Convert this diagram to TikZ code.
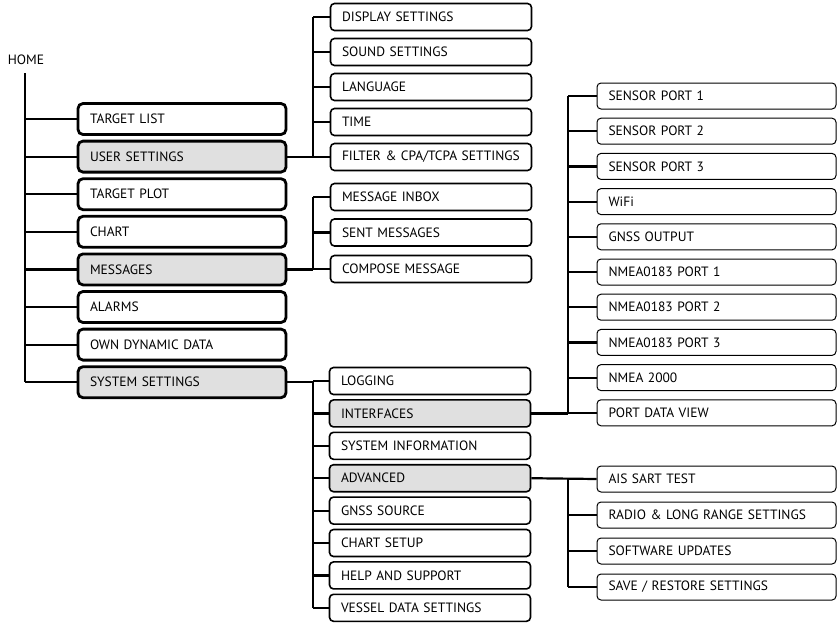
\documentclass[tikz,border=0pt]{standalone}
\usepackage{fontspec}
\setmainfont{PT Sans}
\begin{document}
\begin{tikzpicture}[x=1pt,y=-1pt,
    font=\fontsize{13.5}{15}\selectfont,
    menubox/.style={draw,rounded corners=5pt,line width=2.8pt,minimum width=208pt,minimum height=31pt,
        text width=184pt,align=left,inner xsep=12pt,inner ysep=0pt,fill=white},
    subbox/.style={draw,rounded corners=4pt,line width=1.6pt,minimum width=201pt,minimum height=27pt,
        text width=178pt,align=left,inner xsep=11.5pt,inner ysep=0pt,fill=white},
    leafbox/.style={draw,rounded corners=4pt,line width=1pt,minimum width=239pt,minimum height=26pt,
        text width=216pt,align=left,inner xsep=11.5pt,inner ysep=0pt,fill=white},
    open/.style={fill=white!88!black},
    link/.style={line width=2.2pt}]
    \useasboundingbox (0,0) rectangle (837,622);
    %% Home
    \node[inner sep=0pt] (home) at (26,60) {HOME};
    \coordinate (hstem) at (25,73);
    \node[menubox] (tlist) at (182,119) {TARGET LIST};
    \node[menubox,open] (user) at (182,156.6) {USER SETTINGS};
    \node[menubox] (tplot) at (182,194.2) {TARGET PLOT};
    \node[menubox] (chart) at (182,231.8) {CHART};
    \node[menubox,open] (msg) at (182,269.4) {MESSAGES};
    \node[menubox] (alarm) at (182,307) {ALARMS};
    \node[menubox] (own) at (182,344.6) {OWN DYNAMIC DATA};
    \node[menubox,open] (sys) at (182,382.2) {SYSTEM SETTINGS};
    \draw[link] (hstem) -- (hstem |- sys.west);
    \foreach \n in {tlist,user,tplot,chart,msg,alarm,own,sys}
        \draw[link] (hstem |- \n.west) -- (\n.west);
    %% User settings
    \coordinate (ustem) at (313,17);
    \node[subbox] (disp) at (431,17) {DISPLAY SETTINGS};
    \node[subbox] (sound) at (431,52) {SOUND SETTINGS};
    \node[subbox] (lang) at (431,87) {LANGUAGE};
    \node[subbox] (time) at (431,122) {TIME};
    \node[subbox] (filt) at (431,157) {FILTER \& CPA/TCPA SETTINGS};
    \draw[link] (user.east) -- (ustem |- user.east);
    \draw[link] (ustem) -- (ustem |- filt.west);
    \foreach \n in {disp,sound,lang,time,filt}
        \draw[link] (ustem |- \n.west) -- (\n.west);
    %% Messages
    \coordinate (mstem) at (313,197);
    \node[subbox] (inbox) at (431,197) {MESSAGE INBOX};
    \node[subbox] (sent) at (431,232.5) {SENT MESSAGES};
    \node[subbox] (comp) at (431,269) {COMPOSE MESSAGE};
    \draw[link] (msg.east) -- (mstem |- msg.east);
    \draw[link] (mstem) -- (mstem |- comp.west);
    \foreach \n in {inbox,sent,comp}
        \draw[link] (mstem |- \n.west) -- (\n.west);
    %% System settings
    \coordinate (sstem) at (313,381);
    \node[subbox] (log) at (430,381) {LOGGING};
    \node[subbox,open] (iface) at (430,413.4) {INTERFACES};
    \node[subbox] (sinfo) at (430,445.8) {SYSTEM INFORMATION};
    \node[subbox,open] (adv) at (430,478.2) {ADVANCED};
    \node[subbox] (gsrc) at (430,510.6) {GNSS SOURCE};
    \node[subbox] (csetup) at (430,543) {CHART SETUP};
    \node[subbox] (help) at (430,575.4) {HELP AND SUPPORT};
    \node[subbox] (vessel) at (430,607.8) {VESSEL DATA SETTINGS};
    \draw[link] (sys.east) -- (sstem |- sys.east);
    \draw[link] (sstem) -- (sstem |- vessel.west);
    \foreach \n in {log,iface,sinfo,adv,gsrc,csetup,help,vessel}
        \draw[link] (sstem |- \n.west) -- (\n.west);
    %% Interfaces
    \coordinate (istem) at (568,96);
    \node[leafbox] (sp1) at (716.5,96) {SENSOR PORT 1};
    \node[leafbox] (sp2) at (716.5,131.2) {SENSOR PORT 2};
    \node[leafbox] (sp3) at (716.5,166.4) {SENSOR PORT 3};
    \node[leafbox] (wifi) at (716.5,201.6) {WiFi};
    \node[leafbox] (gout) at (716.5,236.8) {GNSS OUTPUT};
    \node[leafbox] (np1) at (716.5,272) {NMEA0183 PORT 1};
    \node[leafbox] (np2) at (716.5,307.2) {NMEA0183 PORT 2};
    \node[leafbox] (np3) at (716.5,342.4) {NMEA0183 PORT 3};
    \node[leafbox] (n2k) at (716.5,377.6) {NMEA 2000};
    \node[leafbox] (pdv) at (716.5,412.8) {PORT DATA VIEW};
    \draw[link] (iface.east) -- (istem |- iface.east);
    \draw[link] (istem) -- (istem |- pdv.west);
    \foreach \n in {sp1,sp2,sp3,wifi,gout,np1,np2,np3,n2k,pdv}
        \draw[link] (istem |- \n.west) -- (\n.west);
    %% Advanced
    \coordinate (astem) at (568,479);
    \node[leafbox] (sart) at (716.5,479) {AIS SART TEST};
    \node[leafbox] (radio) at (716.5,515) {RADIO \& LONG RANGE SETTINGS};
    \node[leafbox] (soft) at (716.5,551) {SOFTWARE UPDATES};
    \node[leafbox] (save) at (716.5,587) {SAVE / RESTORE SETTINGS};
    \draw[link] (adv.east) -- (sart.west);
    \draw[link] (astem) -- (astem |- save.west);
    \foreach \n in {radio,soft,save}
        \draw[link] (astem |- \n.west) -- (\n.west);
\end{tikzpicture}
\end{document}
